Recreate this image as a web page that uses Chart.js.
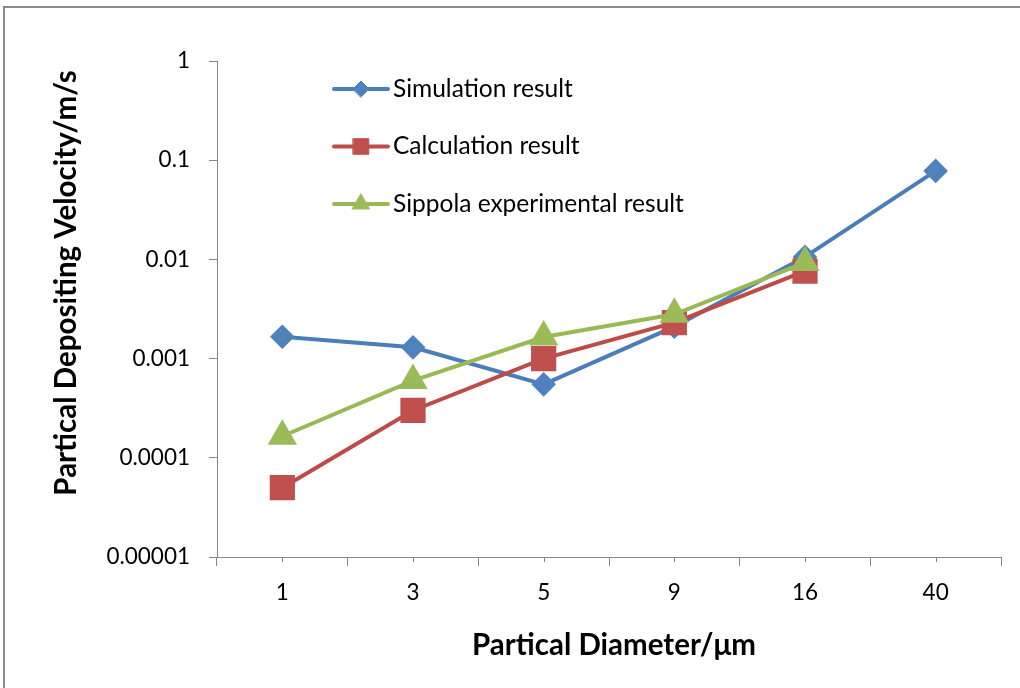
<!DOCTYPE html>
<html>
<head>
<meta charset="utf-8">
<script src="https://cdn.jsdelivr.net/npm/chart.js@4/dist/chart.umd.min.js"></script>
<style>
  html, body { margin: 0; padding: 0; background: #fff; overflow: hidden; }
  #wrap { position: relative; width: 1020px; height: 688px; }
  #frame { position: absolute; left: 3px; top: 6px; width: 1100px; height: 1000px;
           border: 2px solid #8a8a8a; pointer-events: none; }
</style>
</head>
<body>
<div id="wrap">
  <canvas id="chart" width="1020" height="688"></canvas>
  <div id="frame"></div>
</div>
<script>
// particle diameters (µm)
const diameters = ['1', '3', '5', '9', '16', '40'];

// deposition velocity, m/s
const simulation = [0.00166, 0.0013, 0.00055, 0.0021, 0.0106, 0.078];
const calculation = [0.00005, 0.0003, 0.001, 0.0023, 0.0076, null];
const sippola = [0.000165, 0.0006, 0.00165, 0.0028, 0.0093, null];

const yTicks = [0.00001, 0.0001, 0.001, 0.01, 0.1, 1];
const yTickLabels = ['0.00001', '0.0001', '0.001', '0.01', '0.1', '1'];

const xTitle = 'Partical Diameter/\u03bcm';
const yTitle = 'Partical Depositing Velocity/m/s';

const FONT = 'Lato, "Open Sans", sans-serif';
const axisColor = '#868686';

// short ticks under each category centre (Excel minor ticks)
const centerTicks = {
  id: 'centerTicks',
  afterDraw(chart) {
    const ctx = chart.ctx, x = chart.scales.x, b = chart.chartArea.bottom;
    ctx.save();
    ctx.strokeStyle = axisColor;
    ctx.lineWidth = 1;
    diameters.forEach((d, i) => {
      const px = Math.round(x.getPixelForValue(i)) + 0.5;
      ctx.beginPath();
      ctx.moveTo(px, b);
      ctx.lineTo(px, b + 5);
      ctx.stroke();
    });
    ctx.restore();
  }
};

// legend sitting inside the plot, top-left
const insideLegend = {
  id: 'insideLegend',
  afterDraw(chart) {
    const ctx = chart.ctx, area = chart.chartArea;
    const sizes = [8, 11, 10];
    ctx.save();
    chart.data.datasets.forEach((ds, i) => {
      const y = area.top + 28 + i * 57.5;
      const x0 = area.left + 117, x1 = area.left + 171;
      ctx.strokeStyle = ds.borderColor;
      ctx.lineWidth = 4;
      ctx.lineCap = 'round';
      ctx.beginPath();
      ctx.moveTo(x0, y);
      ctx.lineTo(x1, y);
      ctx.stroke();
      ctx.fillStyle = ds.pointBackgroundColor;
      ctx.strokeStyle = ds.pointBackgroundColor;
      ctx.lineWidth = 1;
      Chart.helpers.drawPoint(ctx, { pointStyle: ds.pointStyle, radius: sizes[i], borderWidth: 1, rotation: 0 }, (x0 + x1) / 2, y);
      ctx.fillStyle = '#000';
      ctx.font = '24.5px ' + FONT;
      ctx.textBaseline = 'middle';
      ctx.textAlign = 'left';
      ctx.fillText(ds.label, x1 + 5, y);
    });
    ctx.restore();
  }
};

// axis titles, placed like the original
const axisTitles = {
  id: 'axisTitles',
  afterDraw(chart) {
    const ctx = chart.ctx, area = chart.chartArea;
    ctx.save();
    ctx.fillStyle = '#000';
    ctx.font = 'bold 29.5px ' + FONT;
    ctx.textAlign = 'center';
    ctx.textBaseline = 'middle';
    ctx.fillText(xTitle, (area.left + area.right) / 2 + 5, area.bottom + 88);
    ctx.translate(area.left - 151, (area.top + area.bottom) / 2 - 26);
    ctx.rotate(-Math.PI / 2);
    ctx.fillText(yTitle, 0, 0);
    ctx.restore();
  }
};

new Chart(document.getElementById('chart'), {
  type: 'line',
  data: {
    labels: diameters,
    datasets: [
      {
        label: 'Simulation result',
        data: simulation,
        borderColor: '#4A7EBB',
        backgroundColor: '#4F81BD',
        pointBackgroundColor: '#4F81BD',
        pointBorderColor: '#4F81BD',
        pointStyle: 'rectRot',
        pointRadius: 9.5,
        borderWidth: 4,
        order: 3
      },
      {
        label: 'Calculation result',
        data: calculation,
        borderColor: '#BE4B48',
        backgroundColor: '#C0504D',
        pointBackgroundColor: '#C0504D',
        pointBorderColor: '#C0504D',
        pointStyle: 'rect',
        pointRadius: 15,
        borderWidth: 4,
        order: 2
      },
      {
        label: 'Sippola experimental result',
        data: sippola,
        borderColor: '#98B954',
        backgroundColor: '#9BBB59',
        pointBackgroundColor: '#9BBB59',
        pointBorderColor: '#9BBB59',
        pointStyle: 'triangle',
        pointRadius: 13,
        borderWidth: 4,
        order: 1
      }
    ]
  },
  options: {
    responsive: false,
    animation: false,
    layout: { padding: { top: 61, right: 18, left: 0, bottom: 0 } },
    elements: {
      line: { tension: 0, fill: false },
      point: { borderWidth: 1, hoverRadius: 9 }
    },
    plugins: {
      legend: { display: false },
      tooltip: { enabled: false }
    },
    scales: {
      x: {
        type: 'category',
        offset: true,
        grid: { offset: true, drawOnChartArea: false, drawTicks: true, tickLength: 9, color: axisColor },
        border: { display: true, color: axisColor, width: 1 },
        ticks: { color: '#000', font: { family: FONT, size: 22.5 }, padding: 13, maxRotation: 0 },
        afterFit(scale) { scale.height = 131; }
      },
      y: {
        type: 'logarithmic',
        min: 0.00001,
        max: 1,
        afterBuildTicks(scale) { scale.ticks = yTicks.map(v => ({ value: v })); },
        grid: { drawOnChartArea: false, drawTicks: true, tickLength: 8, color: axisColor },
        border: { display: true, color: axisColor, width: 1 },
        ticks: {
          color: '#000',
          font: { family: FONT, size: 22.5 },
          padding: 19,
          callback: (v, i) => yTickLabels[i]
        },
        afterFit(scale) { scale.width = 217; }
      }
    }
  },
  plugins: [centerTicks, insideLegend, axisTitles]
});
</script>
</body>
</html>
